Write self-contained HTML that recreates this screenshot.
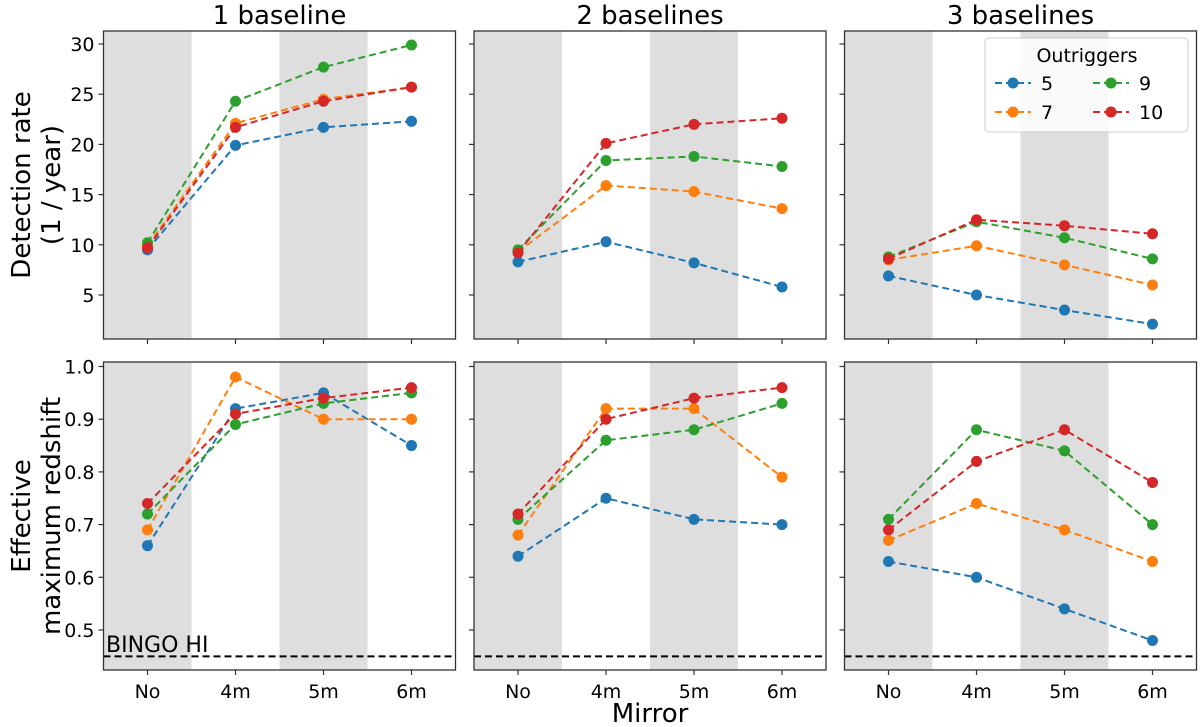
<!DOCTYPE html>
<html><head><meta charset="utf-8"><style>
body{margin:0;background:#fff}
svg{display:block;font-family:"DejaVu Sans","Liberation Sans",sans-serif}
</style></head><body>
<svg id="c" width="1200" height="727" viewBox="0 0 1200 727"></svg>
<script>
const categories=["No","4m","5m","6m"];
const outriggers=["5","7","9","10"];
const colors=["#1f77b4","#ff7f0e","#2ca02c","#d62728"];
const panelTitles=["1 baseline","2 baselines","3 baselines"];
const rateP1=[[9.5,19.9,21.7,22.3],[9.9,22.1,24.5,25.7],[10.2,24.3,27.7,29.9],[9.7,21.7,24.3,25.7]];
const rateP2=[[8.3,10.3,8.2,5.8],[9.3,15.9,15.3,13.6],[9.5,18.4,18.8,17.8],[9.2,20.1,22.0,22.6]];
const rateP3=[[6.9,5.0,3.5,2.1],[8.5,9.9,8.0,6.0],[8.8,12.3,10.7,8.6],[8.6,12.5,11.9,11.1]];
const zP1=[[0.66,0.92,0.95,0.85],[0.69,0.98,0.90,0.90],[0.72,0.89,0.93,0.95],[0.74,0.91,0.94,0.96]];
const zP2=[[0.64,0.75,0.71,0.70],[0.68,0.92,0.92,0.79],[0.71,0.86,0.88,0.93],[0.72,0.90,0.94,0.96]];
const zP3=[[0.63,0.60,0.54,0.48],[0.67,0.74,0.69,0.63],[0.71,0.88,0.84,0.70],[0.69,0.82,0.88,0.78]];
const rateTicks=[5,10,15,20,25,30];
const zTicks=[0.5,0.6,0.7,0.8,0.9,1.0];
const bingoLevel=0.45;

const NS="http://www.w3.org/2000/svg";
const svg=document.getElementById('c');
function el(tag,attrs,parent){const e=document.createElementNS(NS,tag);for(const k in attrs)e.setAttribute(k,attrs[k]);(parent||svg).appendChild(e);return e;}
const lefts=[103.5,474,844.5];
const PW=352;
const rows=[{top:31,bottom:339,y:v=>44+(30-v)*10.04,ticks:rateTicks,data:[rateP1,rateP2,rateP3],fmt:v=>String(v)},
            {top:362,bottom:670,y:v=>366.5+(1.0-v)*527,ticks:zTicks,data:[zP1,zP2,zP3],fmt:v=>v.toFixed(1)}];
function xs(p,i){return lefts[p]+(i+0.5)*PW/4;}

rows.forEach((r,ri)=>{
  for(let p=0;p<3;p++){
    const g=el('g',{});
    
    
    const L=lefts[p];
    [0,2].forEach(k=>{
      const b=el('rect',{x:L+k*PW/4,y:r.top,width:PW/4,height:r.bottom-r.top,fill:'#dedede'},g);
      
      
    });
    if(ri===1){
      const bl=el('line',{x1:L,x2:L+PW,y1:r.y(bingoLevel),y2:r.y(bingoLevel),stroke:'#000','stroke-width':2,'stroke-dasharray':'7,4'},g);
      
      
    }
    r.ticks.forEach(t=>{
      el('line',{x1:L-5,x2:L,y1:r.y(t),y2:r.y(t),stroke:'#333','stroke-width':1.2},g);
      if(p===0){
        const tx=el('text',{x:L-9,y:r.y(t)+7,'text-anchor':'end','font-size':19},g);
        tx.textContent=r.fmt(t);
        
        
      }
    });
    categories.forEach((c,i)=>{
      el('line',{x1:xs(p,i),x2:xs(p,i),y1:r.bottom,y2:r.bottom+5,stroke:'#333','stroke-width':1.2},g);
      if(ri===1){
        const tx=el('text',{x:xs(p,i),y:r.bottom+28,'text-anchor':'middle','font-size':19},g);
        tx.textContent=c;
        
        
      }
    });
    const d=r.data[p];
    d.forEach((ser,si)=>{
      const pts=ser.map((v,i)=>xs(p,i)+','+r.y(v)).join(' ');
      const pl=el('polyline',{points:pts,fill:'none',stroke:colors[si],'stroke-width':2,'stroke-dasharray':'7,4'},g);
      
      
      ser.forEach((v,i)=>{
        const m=el('circle',{cx:xs(p,i),cy:r.y(v),r:5.5,fill:colors[si]},g);
        
        
      });
    });
    const fr=el('rect',{x:L,y:r.top,width:PW,height:r.bottom-r.top,fill:'none',stroke:'#333','stroke-width':1.3},g);
    
    
    if(ri===0){
      const tt=el('text',{x:L+PW/2,y:24,'text-anchor':'middle','font-size':26},g);
      tt.textContent=panelTitles[p];
      
      
    }
  }
});
</script>
<svg style="position:absolute;left:0;top:0" width="1200" height="727">
<g font-family="DejaVu Sans, Liberation Sans, sans-serif" font-size="26">
<text transform="translate(30,185) rotate(-90)" text-anchor="middle">Detection rate</text>
<text transform="translate(60,185) rotate(-90)" text-anchor="middle">(1 / year)</text>
<text transform="translate(30,516) rotate(-90)" text-anchor="middle">Effective</text>
<text transform="translate(60,516) rotate(-90)" text-anchor="middle">maximum redshift</text>
<text x="650" y="722" text-anchor="middle">Mirror</text>
<text x="106" y="652" font-size="22">BINGO HI</text>
</g>
<g font-family="DejaVu Sans, Liberation Sans, sans-serif" font-size="19">
<rect x="985" y="38" width="203" height="94" rx="4" fill="#fff" fill-opacity="0.85" stroke="#ccc"/>
<text x="1087" y="62" text-anchor="middle">Outriggers</text>
<g><line x1="995" x2="1031" y1="83" y2="83" stroke="#1f77b4" stroke-width="2" stroke-dasharray="7,4"/><circle cx="1013" cy="83" r="5.5" fill="#1f77b4"/><text x="1041" y="90">5</text></g>
<g><line x1="995" x2="1031" y1="112" y2="112" stroke="#ff7f0e" stroke-width="2" stroke-dasharray="7,4"/><circle cx="1013" cy="112" r="5.5" fill="#ff7f0e"/><text x="1041" y="119">7</text></g>
<g><line x1="1093" x2="1129" y1="83" y2="83" stroke="#2ca02c" stroke-width="2" stroke-dasharray="7,4"/><circle cx="1111" cy="83" r="5.5" fill="#2ca02c"/><text x="1139" y="90">9</text></g>
<g><line x1="1093" x2="1129" y1="112" y2="112" stroke="#d62728" stroke-width="2" stroke-dasharray="7,4"/><circle cx="1111" cy="112" r="5.5" fill="#d62728"/><text x="1139" y="119">10</text></g>
</g>
</svg>
</body></html>
